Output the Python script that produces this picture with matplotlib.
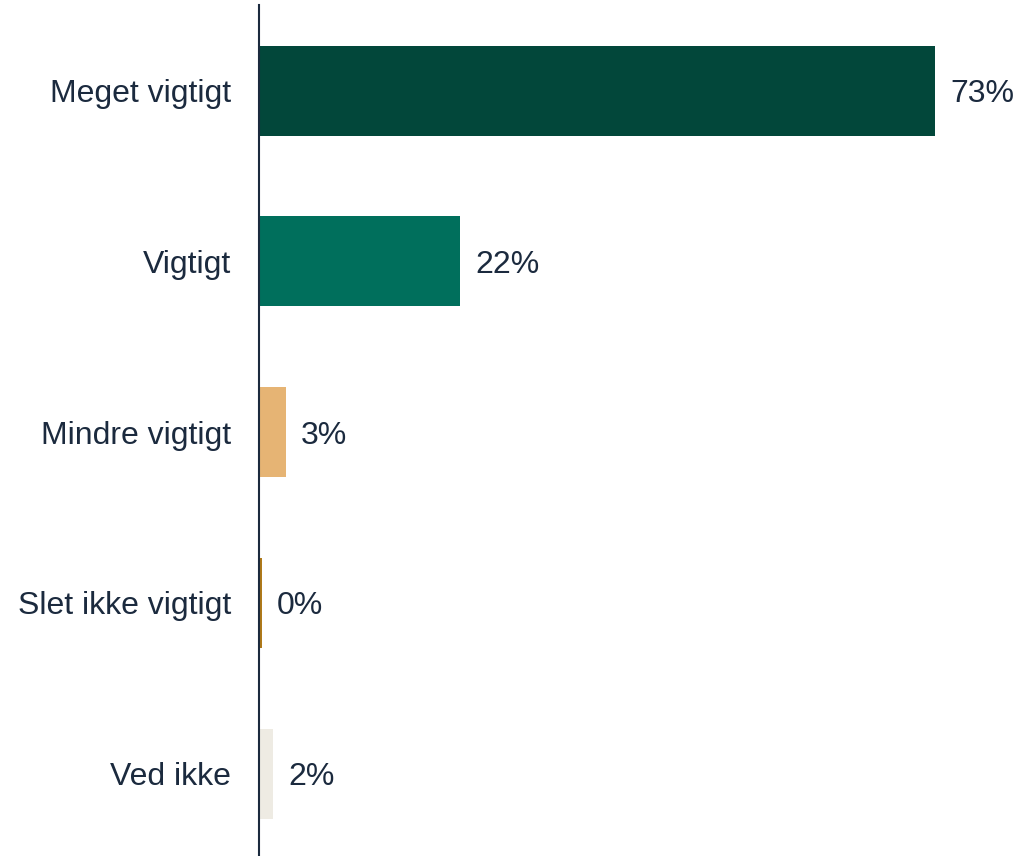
import matplotlib
matplotlib.use("Agg")
import matplotlib.pyplot as plt

categories = ["Meget vigtigt", "Vigtigt", "Mindre vigtigt", "Slet ikke vigtigt", "Ved ikke"]
values = [73.1, 21.7, 2.9, 0.3, 1.5]
value_labels = ["73%", "22%", "3%", "0%", "2%"]
colors = ["#02473A", "#006F5C", "#E6B474", "#B07A1A", "#EEEBE3"]

text_color = "#1B2A3E"
plt.rcParams['font.family'] = ['Liberation Sans', 'DejaVu Sans']

W, H = 1020, 856
fig = plt.figure(figsize=(W/100, H/100), dpi=100)
ax = fig.add_axes([259/W, -3/H, (W-259)/W, 853.7/H])

y = list(range(len(categories)))
ax.barh(y, values, height=0.527, color=colors)
ax.set_ylim(len(categories)-0.5, -0.5)
ax.set_xlim(0, (W-259)/9.25)

fs = 23
for yi, v, lab in zip(y, values, value_labels):
    ax.annotate(lab, (v, yi), xytext=(11, 0), textcoords="offset points",
                ha="left", va="center_baseline", fontsize=fs, color=text_color)

ax.set_yticks(y)
ax.set_yticklabels(categories, fontsize=fs, color=text_color)
ax.tick_params(axis="y", length=0, pad=20)
ax.set_xticks([])
for s in ["top", "right", "bottom"]:
    ax.spines[s].set_visible(False)
ax.spines["left"].set_color(text_color)
ax.spines["left"].set_linewidth(1.5)

fig.savefig("out.png", dpi=100)
